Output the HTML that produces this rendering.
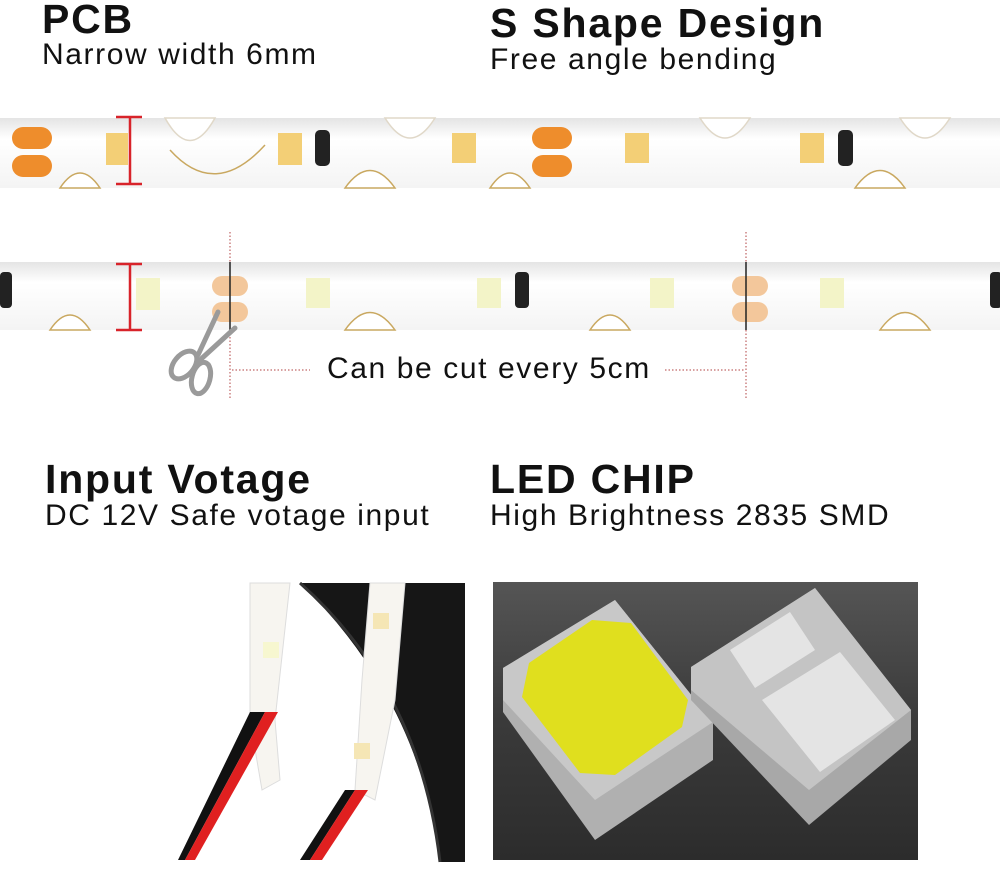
<!DOCTYPE html>
<html><head><meta charset="utf-8"><style>
body{margin:0;background:#fff;width:1000px;height:885px;overflow:hidden;position:relative;font-family:"Liberation Sans",Arial,sans-serif}
.t{position:absolute;color:#111;white-space:nowrap}
.h{font-weight:bold;font-size:41px;letter-spacing:1.8px}
.s{font-size:30px;letter-spacing:1.6px}
</style></head><body>
<svg width="1000" height="885" style="position:absolute;left:0;top:0">
<defs>
<linearGradient id="bg" x1="0" y1="0" x2="0" y2="1"><stop offset="0" stop-color="#555"/><stop offset="0.5" stop-color="#3a3a3a"/><stop offset="1" stop-color="#2c2c2c"/></linearGradient>
<linearGradient id="sh" x1="0" y1="0" x2="0" y2="1"><stop offset="0" stop-color="#e4e4e4"/><stop offset="0.3" stop-color="#fff"/><stop offset="1" stop-color="#f4f4f4"/></linearGradient>
</defs>
<rect x="0" y="118" width="1000" height="70" fill="url(#sh)"/>
<g fill="#fff" stroke="#e0d8c8" stroke-width="1.5">
<path d="M165 118 q25 45 50 0 z"/><path d="M385 118 q25 40 50 0 z"/><path d="M700 118 q25 40 50 0 z"/><path d="M900 118 q25 40 50 0 z"/>
</g>
<g fill="#fff" stroke="#c9a860" stroke-width="1.5">
<path d="M60 188 q20 -30 40 0 z"/><path d="M345 188 q25 -35 50 0 z"/><path d="M490 188 q20 -30 40 0 z"/><path d="M855 188 q25 -35 50 0 z"/>
</g>
<path d="M170 150 q45 50 95 -5" fill="none" stroke="#c9a860" stroke-width="1.5"/>
<g fill="#f3cf76"><rect x="106" y="133" width="22" height="32"/><rect x="278" y="133" width="24" height="32"/><rect x="452" y="133" width="24" height="30"/><rect x="625" y="133" width="24" height="30"/><rect x="800" y="133" width="24" height="30"/></g>
<g fill="#ee8d2c"><rect x="12" y="127" width="40" height="22" rx="11"/><rect x="12" y="155" width="40" height="22" rx="11"/><rect x="532" y="127" width="40" height="22" rx="11"/><rect x="532" y="155" width="40" height="22" rx="11"/></g>
<g fill="#222"><rect x="315" y="130" width="15" height="36" rx="5"/><rect x="838" y="130" width="15" height="36" rx="5"/></g>
<rect x="0" y="262" width="1000" height="68" fill="url(#sh)"/>
<g fill="#fff" stroke="#c9a860" stroke-width="1.5">
<path d="M50 330 q20 -30 40 0 z"/><path d="M345 330 q25 -35 50 0 z"/><path d="M590 330 q20 -30 40 0 z"/><path d="M880 330 q25 -35 50 0 z"/>
</g>
<g fill="#f3f4c8"><rect x="136" y="278" width="24" height="32"/><rect x="306" y="278" width="24" height="30"/><rect x="477" y="278" width="24" height="30"/><rect x="650" y="278" width="24" height="30"/><rect x="820" y="278" width="24" height="30"/></g>
<g fill="#f3c79b"><rect x="212" y="276" width="36" height="20" rx="10"/><rect x="212" y="302" width="36" height="20" rx="10"/><rect x="732" y="276" width="36" height="20" rx="10"/><rect x="732" y="302" width="36" height="20" rx="10"/></g>
<g fill="#222"><rect x="0" y="272" width="12" height="36" rx="4"/><rect x="515" y="272" width="14" height="36" rx="4"/><rect x="990" y="272" width="12" height="36" rx="4"/></g>
<g stroke="#d8232a" stroke-width="2.5"><line x1="130" y1="117" x2="130" y2="184"/><line x1="116" y1="117" x2="142" y2="117"/><line x1="116" y1="184" x2="142" y2="184"/>
<line x1="130" y1="264" x2="130" y2="330"/><line x1="116" y1="264" x2="142" y2="264"/><line x1="116" y1="330" x2="142" y2="330"/></g>
<g stroke="#b04040" stroke-width="1" stroke-dasharray="1.5 2"><line x1="230" y1="232" x2="230" y2="400"/><line x1="746" y1="232" x2="746" y2="400"/><line x1="232" y1="370" x2="310" y2="370"/><line x1="665" y1="370" x2="745" y2="370"/></g>
<line x1="230" y1="262" x2="230" y2="330" stroke="#222" stroke-width="1.5"/><line x1="746" y1="262" x2="746" y2="330" stroke="#222" stroke-width="1.5"/>
<g stroke="#9a9a9a" fill="none" stroke-width="5" stroke-linecap="round"><line x1="218" y1="312" x2="198" y2="355"/><line x1="235" y1="328" x2="200" y2="360"/><ellipse cx="184" cy="365" rx="10" ry="16" transform="rotate(40 184 365)"/><ellipse cx="201" cy="378" rx="9" ry="16" transform="rotate(15 201 378)"/></g>
<path d="M300 583 L465 583 L465 862 L440 862 Q420 700 300 583 Z" fill="#161616"/>
<path d="M300 583 Q420 690 440 862" fill="none" stroke="#333" stroke-width="3"/>
<path d="M250 583 L290 583 L275 720 L280 780 L262 790 L250 720 Z" fill="#f7f5f0" stroke="#ddd"/>
<path d="M370 583 L405 583 L395 700 L375 800 L355 790 L362 680 Z" fill="#f7f5f0" stroke="#ddd"/>
<rect x="263" y="642" width="16" height="16" fill="#f7f7d0"/><rect x="373" y="613" width="16" height="16" fill="#f5e6b5"/><rect x="354" y="743" width="16" height="16" fill="#f5e6b5"/>
<path d="M250 712 L265 712 L185 860 L178 860 Z" fill="#111"/><path d="M265 712 L278 712 L195 860 L185 860 Z" fill="#e02020"/>
<path d="M345 790 L355 790 L310 860 L300 860 Z" fill="#111"/><path d="M355 790 L368 790 L322 860 L310 860 Z" fill="#e02020"/>
<rect x="493" y="582" width="425" height="278" fill="url(#bg)"/>
<polygon points="503,668 615,600 713,722 713,760 595,840 503,712" fill="#b0b0b0"/>
<polygon points="503,668 615,600 713,722 595,800 503,700" fill="#c8c8c8"/>
<polygon points="522,697 529,663 592,620 631,623 688,700 682,727 615,775 580,773" fill="#e0df1e"/>
<polygon points="691,667 815,588 911,710 911,740 809,825 691,700" fill="#a8a8a8"/>
<polygon points="691,667 815,588 911,710 809,790 691,690" fill="#c4c4c4"/>
<polygon points="730,650 790,612 815,650 755,688" fill="#e4e4e4"/>
<polygon points="762,700 840,652 895,720 820,772" fill="#e4e4e4"/>
</svg>
<div class="t h" style="left:42px;top:-4px">PCB</div>
<div class="t s" style="left:42px;top:38px">Narrow width 6mm</div>
<div class="t h" style="left:490px;top:0px">S Shape Design</div>
<div class="t s" style="left:490px;top:43px">Free angle bending</div>
<div class="t s" style="left:327px;top:352px">Can be cut every 5cm</div>
<div class="t h" style="left:45px;top:456px">Input Votage</div>
<div class="t s" style="left:45px;top:499px">DC 12V Safe votage input</div>
<div class="t h" style="left:490px;top:456px">LED CHIP</div>
<div class="t s" style="left:490px;top:499px">High Brightness 2835 SMD</div>
</body></html>
